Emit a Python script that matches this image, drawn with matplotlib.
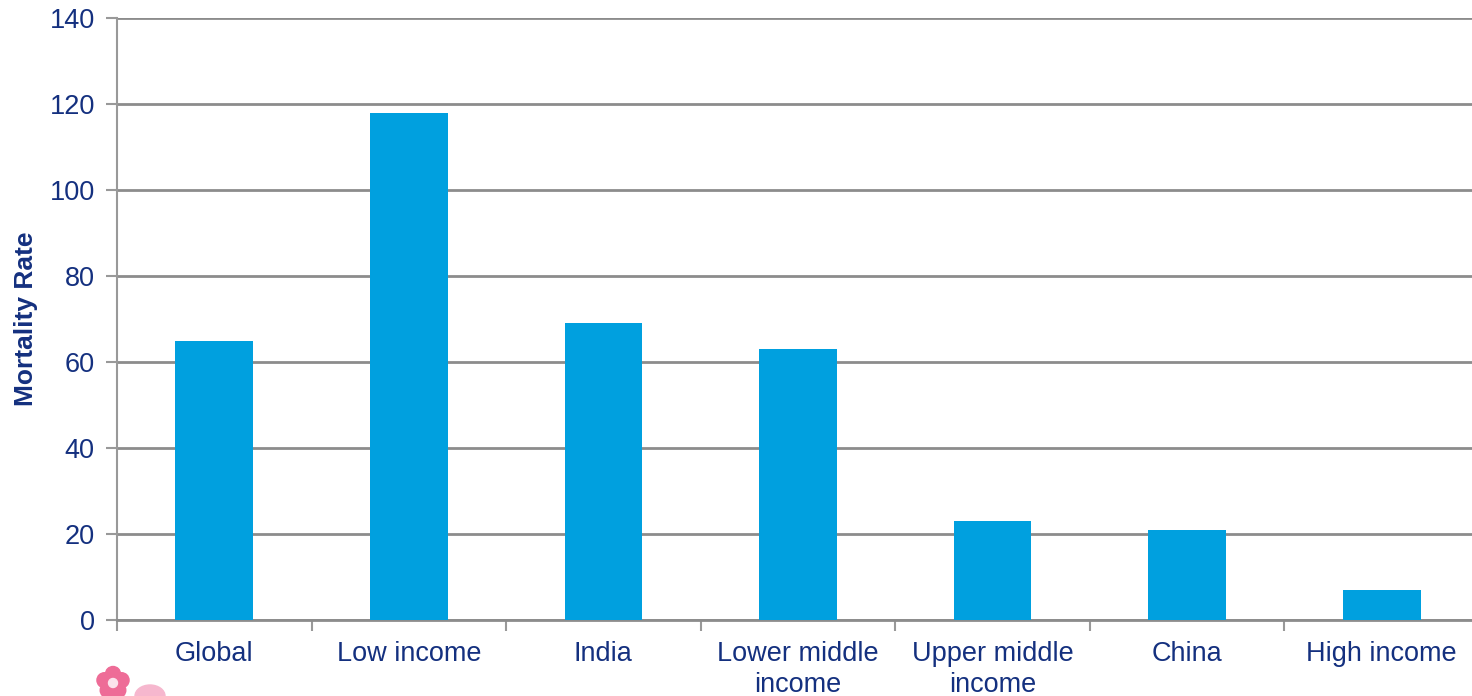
import matplotlib.pyplot as plt
from matplotlib.patches import Circle, Ellipse
import numpy as np

plt.rcParams['font.family'] = ['Liberation Sans', 'DejaVu Sans']

# mortality rate by region / income group
categories = ['Global', 'Low income', 'India', 'Lower middle\nincome',
              'Upper middle\nincome', 'China', 'High income']
mortality = [65, 118, 69, 63, 23, 21, 7]

navy = '#14307F'
bar_blue = '#00A0DF'
grid_grey = '#8C8C8C'

fig = plt.figure(figsize=(14.72, 6.96), dpi=100)
# axes runs a little past the right edge of the figure
ax = fig.add_axes([117/1472, 1 - 620/696, 1362/1472, 602/696])

x = np.arange(len(categories))
ax.bar(x, mortality, width=0.4, color=bar_blue, zorder=3)

ax.set_xlim(-0.5, len(categories) - 0.5)
ax.set_ylim(0, 140)
ax.set_yticks(np.arange(0, 141, 20))
ax.yaxis.grid(True, color=grid_grey, linewidth=2, zorder=0)
ax.set_axisbelow(True)

# tick marks on category boundaries, labels under bar centres
ax.set_xticks(np.arange(-0.5, len(categories), 1))
ax.set_xticklabels([])
ax.set_xticks(x, minor=True)
ax.set_xticklabels(categories, minor=True, fontsize=19.5, color=navy,
                   linespacing=1.25, va='top')
ax.tick_params(axis='x', which='major', length=8, width=1.5, color='#999999')
ax.tick_params(axis='x', which='minor', length=0, pad=15)
ax.tick_params(axis='y', length=8, width=1.5, color='#999999',
               labelsize=19.5, labelcolor=navy, pad=8)

for side in ['top', 'right']:
    ax.spines[side].set_visible(False)
ax.spines['left'].set_color('#999999')
ax.spines['left'].set_linewidth(1.5)
ax.spines['bottom'].set_color(grid_grey)
ax.spines['bottom'].set_linewidth(2)

ax.set_ylabel('Mortality Rate', fontsize=19, fontweight='bold', color=navy)
ax.yaxis.set_label_coords(-0.058, 0.5)

# small pink blossom in the lower left corner (display coords, origin bottom-left)
cx, cy = 113, 13
for a in np.linspace(0, 2*np.pi, 5, endpoint=False):
    fig.patches.append(Circle((cx + 9*np.sin(a), cy + 9*np.cos(a)), 7.5,
                              transform=None, color='#EE6C97', zorder=5))
fig.patches.append(Circle((cx, cy), 4.5, transform=None, color='#FBE3EC', zorder=6))
fig.patches.append(Ellipse((150, 0), 30, 22, transform=None,
                           color='#F6B7CE', zorder=5))

fig.savefig('out.png', dpi=100)
